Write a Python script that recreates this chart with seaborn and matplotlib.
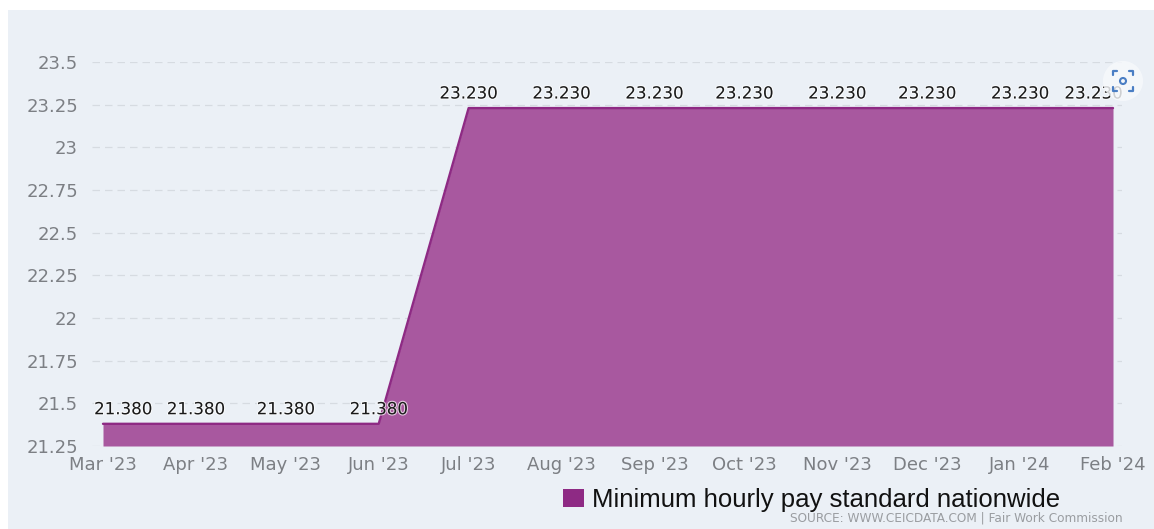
import matplotlib
matplotlib.use("Agg")
import matplotlib.pyplot as plt
import matplotlib.patheffects as pe
from matplotlib.patches import Rectangle, Circle, Patch
from matplotlib.lines import Line2D
import pandas as pd
import seaborn as sns

months = ["2023-03-01", "2023-04-01", "2023-05-01", "2023-06-01", "2023-07-01", "2023-08-01",
          "2023-09-01", "2023-10-01", "2023-11-01", "2023-12-01", "2024-01-01", "2024-02-01"]
month_labels = ["Mar '23", "Apr '23", "May '23", "Jun '23", "Jul '23", "Aug '23",
                "Sep '23", "Oct '23", "Nov '23", "Dec '23", "Jan '24", "Feb '24"]
pay = [21.38, 21.38, 21.38, 21.38, 23.23, 23.23, 23.23, 23.23, 23.23, 23.23, 23.23, 23.23]
y_ticks = [21.25, 21.5, 21.75, 22, 22.25, 22.5, 22.75, 23, 23.25, 23.5]
y_tick_labels = ["21.25", "21.5", "21.75", "22", "22.25", "22.5", "22.75", "23", "23.25", "23.5"]
series_name = "Minimum hourly pay standard nationwide"
source_text = "SOURCE: WWW.CEICDATA.COM | Fair Work Commission"

W, H = 1154, 529
BG = "#EBF0F6"
FILL = "#A8589F"
LINE = "#8E2A84"
LEGEND = "#8E2A84"
GRID = "#D6DBE1"
TICK = "#7C7F84"

sns.set_theme(style="white")
plt.rcParams["font.family"] = ["DejaVu Sans"]

df = pd.DataFrame({"month": pd.to_datetime(months), "pay": pay})

fig = plt.figure(figsize=(W / 100, H / 100), dpi=100, facecolor="white")
fig.add_artist(Rectangle((8 / W, 0), 1 - 8 / W, 1 - 10 / H, transform=fig.transFigure,
                         facecolor=BG, edgecolor="none", zorder=-10))
ax = fig.add_axes([92 / W, (H - 446) / H, (1122 - 92) / W, (446 - 62) / H])
ax.patch.set_alpha(0)

ax.fill_between(df["month"], df["pay"], y_ticks[0], color=FILL, linewidth=0, zorder=2)
sns.lineplot(data=df, x="month", y="pay", color=LINE, linewidth=1.7, ax=ax, zorder=3,
             legend=False, errorbar=None)

first, last = df["month"].iloc[0], df["month"].iloc[-1]
ax.set_xlim(first - pd.Timedelta(days=3.67), last + pd.Timedelta(days=3.0))
ax.set_ylim(y_ticks[0], y_ticks[-1])
ax.set_xlabel("")
ax.set_ylabel("")
ax.set_xticks(df["month"])
ax.set_xticklabels(month_labels)
ax.set_yticks(y_ticks)
ax.set_yticklabels(y_tick_labels)
ax.tick_params(axis="x", length=0, pad=7, labelsize=13, labelcolor=TICK)
ax.tick_params(axis="y", length=0, pad=10, labelsize=13, labelcolor=TICK)
ax.grid(axis="y", color=GRID, linestyle=(0, (6, 4)), linewidth=0.9, zorder=1)
ax.set_axisbelow(True)
for s in ax.spines.values():
    s.set_visible(False)

x_shift = [14.5, 0, 0, 0, 0, 0, 0, 0, 0, 0, 0, -14]
for xv, yv, dx in zip(df["month"], df["pay"], x_shift):
    ax.annotate(f"{yv:.3f}", (xv, yv), xytext=(dx, 10.5), textcoords="offset points",
                ha="center", va="center", fontsize=12, color="#1A1A1A", zorder=5, clip_on=False,
                path_effects=[pe.withStroke(linewidth=1.6, foreground="white", alpha=0.7)])

handle = Patch(facecolor=LEGEND, edgecolor="none", label=series_name)
fig.legend(handles=[handle], loc="center left", bbox_to_anchor=(558 / W, (H - 500) / H),
           frameon=False, handlelength=0.8, handleheight=0.7, handletextpad=0.32,
           borderpad=0.2, borderaxespad=0, labelcolor="#111111",
           prop={"family": "Liberation Sans", "size": 18.5})
fig.text(1123 / W, (H - 518) / H, source_text, ha="right", va="center", fontsize=8.75, color="#9A9DA1")

# screenshot button overlay
cx, cy = 1123, H - 81
fig.add_artist(Circle((cx, cy), 20, transform=None, facecolor="#F7F9FC", edgecolor="none", alpha=0.82, zorder=8))
fig.add_artist(Circle((cx, cy), 3, transform=None, facecolor="none", edgecolor="#4A7EC4", linewidth=1.5, zorder=9))
r, c = 10, 4
for sx, sy in [(-1, 1), (1, 1), (-1, -1), (1, -1)]:
    fig.add_artist(Line2D([cx + sx * (r - c), cx + sx * r, cx + sx * r],
                          [cy + sy * r, cy + sy * r, cy + sy * (r - c)],
                          transform=None, color="#4A7EC4", linewidth=1.6, zorder=9))

fig.savefig("out.png", dpi=100, facecolor=fig.get_facecolor())
